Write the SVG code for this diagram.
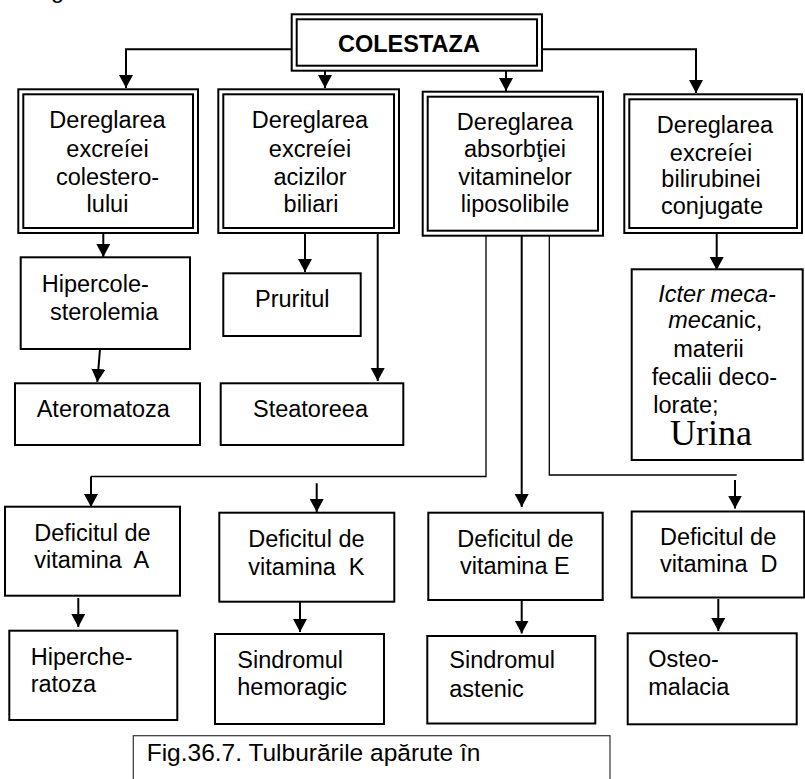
<svg xmlns="http://www.w3.org/2000/svg" width="805" height="779" viewBox="0 0 805 779">
<style>
.bg{fill:#fff}
.box{fill:#fff;stroke:#000;stroke-width:2}
.dbl{fill:none;stroke:#000;stroke-width:2}
.cap{fill:#fff;stroke:#333;stroke-width:1.2}
text{font-family:"Liberation Sans",Arial,sans-serif;font-size:23.5px;fill:#000;white-space:pre}
.c{text-anchor:middle}
.b{font-weight:bold}
.i{font-style:italic}
.serif{font-family:"Liberation Serif","Times New Roman",serif;font-size:36px}
.ln{fill:none;stroke:#000;stroke-width:2}
.thin{fill:none;stroke:#000;stroke-width:1.3}
</style>
<defs>
<marker id="ah" markerUnits="userSpaceOnUse" markerWidth="15" markerHeight="15" refX="13" refY="7" orient="auto">
<path d="M0,0 L13,7 L0,14 z" fill="#000"/>
</marker>
</defs>
<rect class="bg" x="0" y="0" width="805" height="779"/>
<text x="51" y="-2">g</text>

<g id="connectors">
<path class="ln" d="M297,49.3 H126 V88" marker-end="url(#ah)"/>
<path class="ln" d="M325,71 V88" marker-end="url(#ah)"/>
<path class="ln" d="M506,71 V91" marker-end="url(#ah)"/>
<path class="ln" d="M537,49.3 H696 V93" marker-end="url(#ah)"/>
<path class="ln" d="M103.3,234 V257" marker-end="url(#ah)"/>
<path class="ln" d="M100,349 L97.3,382" marker-end="url(#ah)"/>
<path class="ln" d="M305,234 V272" marker-end="url(#ah)"/>
<path class="ln" d="M377.7,234 V381" marker-end="url(#ah)"/>
<path class="ln" d="M716.7,233 V270" marker-end="url(#ah)"/>
<path class="thin" d="M486,236 V476.5 H91"/>
<path class="ln" d="M91,476.5 V507" marker-end="url(#ah)"/>
<path class="ln" d="M521.7,236 V507" marker-end="url(#ah)"/>
<path class="thin" d="M549.3,236 V475 H736.7"/>
<path class="ln" d="M735,480 V508.5" marker-end="url(#ah)"/>
<path class="ln" d="M316.7,483.3 V512" marker-end="url(#ah)"/>
<path class="ln" d="M78.3,598 V627" marker-end="url(#ah)"/>
<path class="ln" d="M300,602 V632" marker-end="url(#ah)"/>
<path class="ln" d="M521.7,601 V633.5" marker-end="url(#ah)"/>
<path class="ln" d="M718.3,599 V631" marker-end="url(#ah)"/>
</g>

<g id="colestaza">
<rect class="box" x="291.7" y="14.3" width="250.3" height="56.4"/>
<rect class="dbl" x="296.7" y="19.3" width="240.3" height="46.4"/>
<text class="b" x="338" y="51.7">COLESTAZA</text>
</g>

<g id="excretie-colesterol">
<rect class="box" x="18.3" y="89.3" width="179.7" height="143.7"/>
<rect class="dbl" x="23.3" y="94.3" width="169.7" height="133.7"/>
<text class="c" x="107.5" y="128.3">Dereglarea</text>
<text class="c" x="107.5" y="156.7">excreíei</text>
<text class="c" x="107.5" y="185">colestero-</text>
<text class="c" x="107.5" y="211.7">lului</text>
</g>

<g id="excretie-acizi">
<rect class="box" x="218.3" y="89.3" width="180.7" height="143.7"/>
<rect class="dbl" x="223.3" y="94.3" width="170.7" height="133.7"/>
<text class="c" x="310" y="128.3">Dereglarea</text>
<text class="c" x="310" y="156.7">excreíei</text>
<text class="c" x="310" y="185">acizilor</text>
<text class="c" x="311" y="211.7">biliari</text>
</g>

<g id="absorbtie-vitamine">
<rect class="box" x="422.7" y="91.7" width="180.3" height="144"/>
<rect class="dbl" x="427.7" y="96.7" width="170.3" height="134"/>
<text class="c" x="515" y="129.5">Dereglarea</text>
<text class="c" x="515" y="157">absorbţiei</text>
<text class="c" x="515" y="185">vitaminelor</text>
<text class="c" x="515" y="211.7">liposolibile</text>
</g>

<g id="excretie-bilirubina">
<rect class="box" x="624.3" y="94.3" width="177.7" height="138.7"/>
<rect class="dbl" x="629.3" y="99.3" width="167.7" height="128.7"/>
<text class="c" x="715" y="133.3">Dereglarea</text>
<text class="c" x="711" y="160.5">excreíei</text>
<text class="c" x="711" y="187">bilirubinei</text>
<text class="c" x="712" y="213.5">conjugate</text>
</g>

<g id="hipercolesterolemia">
<rect class="box" x="20.7" y="257.3" width="169.3" height="91.7"/>
<text x="41.7" y="291.7">Hipercole-</text>
<text x="50" y="320">sterolemia</text>
</g>

<g id="ateromatoza">
<rect class="box" x="15" y="383.3" width="185" height="61.7"/>
<text x="36.7" y="416.7">Ateromatoza</text>
</g>

<g id="pruritul">
<rect class="box" x="223.3" y="273.3" width="137.4" height="62.7"/>
<text x="255" y="306.7">Pruritul</text>
</g>

<g id="steatoreea">
<rect class="box" x="220.7" y="383.3" width="182.6" height="61.7"/>
<text x="253" y="416.7">Steatoreea</text>
</g>

<g id="icter">
<rect class="box" x="631.7" y="269.3" width="171" height="190.7"/>
<text class="i" x="658.3" y="301.7">Icter meca-</text>
<text x="668.3" y="328.3"><tspan class="i">meca</tspan>nic,</text>
<text x="673.3" y="356.7">materii</text>
<text x="651.7" y="385">fecalii deco-</text>
<text x="653.3" y="412.7">lorate;</text>
<text class="serif" x="670" y="445">Urina</text>
</g>

<g id="deficit-a">
<rect class="box" x="5" y="506.7" width="175" height="89"/>
<text x="34.3" y="540.7">Deficitul de</text>
<text x="34.3" y="568.3">vitamina  A</text>
</g>

<g id="deficit-k">
<rect class="box" x="219.3" y="512.7" width="175" height="89"/>
<text x="248.3" y="546.7">Deficitul de</text>
<text x="248.3" y="575">vitamina  K</text>
</g>

<g id="deficit-e">
<rect class="box" x="428.3" y="512.7" width="174.4" height="87.3"/>
<text x="457.3" y="546.7">Deficitul de</text>
<text x="460" y="574">vitamina E</text>
</g>

<g id="deficit-d">
<rect class="box" x="631.7" y="511.5" width="172.5" height="86"/>
<text x="660" y="545">Deficitul de</text>
<text x="660" y="571.7">vitamina  D</text>
</g>

<g id="hipercheratoza">
<rect class="box" x="9.3" y="630.7" width="168" height="89.3"/>
<text x="30.7" y="665">Hiperche-</text>
<text x="30.7" y="691.7">ratoza</text>
</g>

<g id="sindrom-hemoragic">
<rect class="box" x="215" y="634" width="169" height="90"/>
<text x="237.3" y="668.3">Sindromul</text>
<text x="237.3" y="695">hemoragic</text>
</g>

<g id="sindrom-astenic">
<rect class="box" x="427.3" y="636" width="168" height="87.5"/>
<text x="449.3" y="668.3">Sindromul</text>
<text x="449.3" y="696.7">astenic</text>
</g>

<g id="osteomalacia">
<rect class="box" x="627.7" y="633.3" width="169" height="91"/>
<text x="648.3" y="666.7">Osteo-</text>
<text x="648.3" y="695">malacia</text>
</g>

<g id="caption">
<rect class="cap" x="133.3" y="735.7" width="476.7" height="50"/>
<text x="146.7" y="760.7" style="font-size:24.5px">Fig.36.7. Tulburările apărute în</text>
</g>
</svg>
